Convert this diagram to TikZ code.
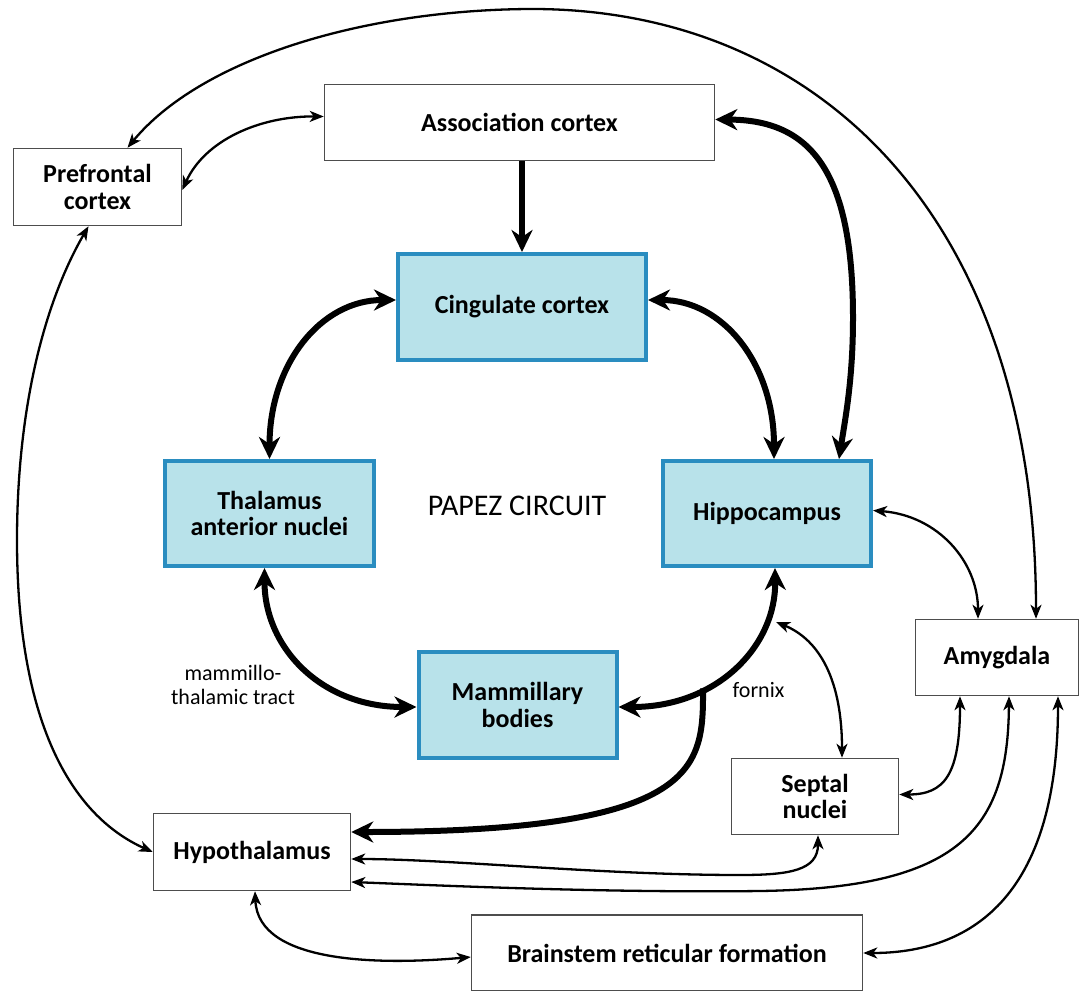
\documentclass[tikz,border=0pt]{standalone}
\usepackage{fontspec}
\setmainfont{Carlito}
\usetikzlibrary{arrows.meta}

\definecolor{boxline}{HTML}{4D4D4D}
\definecolor{papezfill}{HTML}{B8E2EA}
\definecolor{papezline}{HTML}{2A8DC0}

\tikzset{
  boxtext/.style={font=\fontsize{26}{26.5}\selectfont\bfseries, align=center, inner sep=0pt},
  whitebox/.style={boxtext, draw=boxline, line width=1.5pt, fill=white},
  bluebox/.style={boxtext, draw=papezline, line width=4pt, fill=papezfill},
  heavy/.style={line width=6pt, {Stealth[length=22pt,width=21pt,inset=7pt]}-{Stealth[length=22pt,width=21pt,inset=7pt]}},
  heavyto/.style={line width=6pt, -{Stealth[length=22pt,width=21pt,inset=7pt]}},
  light/.style={line width=2.3pt, {Stealth[length=14pt,width=11pt,inset=4pt]}-{Stealth[length=14pt,width=11pt,inset=4pt]}},
  note/.style={font=\fontsize{22}{24}\selectfont, align=center, inner sep=0pt}
}

\begin{document}
\begin{tikzpicture}[x=1pt, y=-1pt]
\useasboundingbox (0,0) rectangle (1086,990);

% outer regions
\node[whitebox, minimum width=168pt, minimum height=77pt] (pfc) at (97.5,187) {Prefrontal\\cortex};
\node[whitebox, minimum width=390pt, minimum height=76pt] (assoc) at (519.5,122.5) {Association cortex};
\node[whitebox, minimum width=163pt, minimum height=76pt] (amy) at (997,657.5) {Amygdala};
\node[whitebox, minimum width=167pt, minimum height=76pt] (sep) at (815,796.5) {Septal\\nuclei};
\node[whitebox, minimum width=197pt, minimum height=77pt] (hyp) at (252,852) {Hypothalamus};
\node[whitebox, minimum width=391pt, minimum height=76pt] (brain) at (667,953) {Brainstem reticular formation};

% Papez circuit
\node[bluebox, minimum width=248pt, minimum height=106pt] (cing) at (522,307) {Cingulate cortex};
\node[bluebox, minimum width=209pt, minimum height=105pt] (thal) at (269.5,513.5) {Thalamus\\anterior nuclei};
\node[bluebox, minimum width=208pt, minimum height=105pt] (hipp) at (767,513.5) {Hippocampus};
\node[bluebox, minimum width=198pt, minimum height=106pt] (mam) at (517.5,705) {Mammillary\\bodies};

% labels
\node[font=\fontsize{30}{32}\selectfont, inner sep=0pt] (papez) at (517,506) {PAPEZ CIRCUIT};
\node[note] (mtt) at (233,684.5) {mammillo-\\thalamic tract};
\node[note, anchor=base] (fornix) at (758.5,697) {fornix};

% heavy connections of the circuit
\draw[heavyto] (cing.north |- assoc.south) -- (cing.north);
\draw[heavy] ([yshift=7pt]cing.west) .. controls +(-75,0) and +(0,-95) .. (thal.north);
\draw[heavy] ([yshift=7pt]cing.east) .. controls +(75,0) and +(0,-95) .. ([xshift=7pt]hipp.north);
\draw[heavy] ([yshift=3pt]assoc.east) .. controls (810,120) and (853,170) .. (853,318)
  .. controls (853,380) and (845,420) .. ([xshift=72pt]hipp.north);
\draw[heavy] ([xshift=-5pt]thal.south) .. controls +(0,79) and +(-96,0) .. ([yshift=-2pt]mam.west);
\draw[heavy] ([xshift=8pt]hipp.south) .. controls +(1,77) and +(100,0) .. ([yshift=-2pt]mam.east)
  coordinate[pos=0.67] (br);
\draw[heavyto] (br) .. controls +(0,78) and +(352,0) .. ([yshift=20pt]hyp.east);

% light connections
\coordinate (fx) at (776,622);
\draw[light] ([xshift=30pt]pfc.north) .. controls (200,60) and (360,10) .. (530,9)
  .. controls (820,8) and (1036,220) .. ([xshift=39pt]amy.north);
\draw[light] ([yshift=-3pt]pfc.east) .. controls (205,140) and (260,116) .. ([yshift=6pt]assoc.west);
\draw[light] ([xshift=-9pt]pfc.south) .. controls (40,310) and (17,420) .. (17,540)
  .. controls (17,720) and (70,815) .. (hyp.west);
\draw[light] ([yshift=3pt]hipp.east) .. controls +(65,5) and +(0,-57) .. ([xshift=-19pt]amy.north);
\draw[light] (fx) .. controls +(44,18) and +(0,-77) .. ([xshift=27pt]sep.north);
\draw[light] ([xshift=-37pt]amy.south) .. controls +(0,79) and +(45,0) .. ([yshift=2pt]sep.east);
\draw[light] ([xshift=12pt]amy.south) .. controls (1008,830) and (960,888) .. (760,891)
  .. controls (600,893) and (430,885) .. ([yshift=-30pt]hyp.east);
\draw[light] ([xshift=61pt]amy.south) .. controls +(0,204) and +(105,0) .. (brain.east);
\draw[light] ([xshift=3pt]sep.south) .. controls +(0,35) and +(50,0) .. (740,875)
  .. controls (600,875) and (450,859) .. ([yshift=-7pt]hyp.east);
\draw[light] ([xshift=3pt]hyp.south) .. controls +(3,73) and +(-89,8) .. ([yshift=-4pt]brain.west);
\end{tikzpicture}
\end{document}
